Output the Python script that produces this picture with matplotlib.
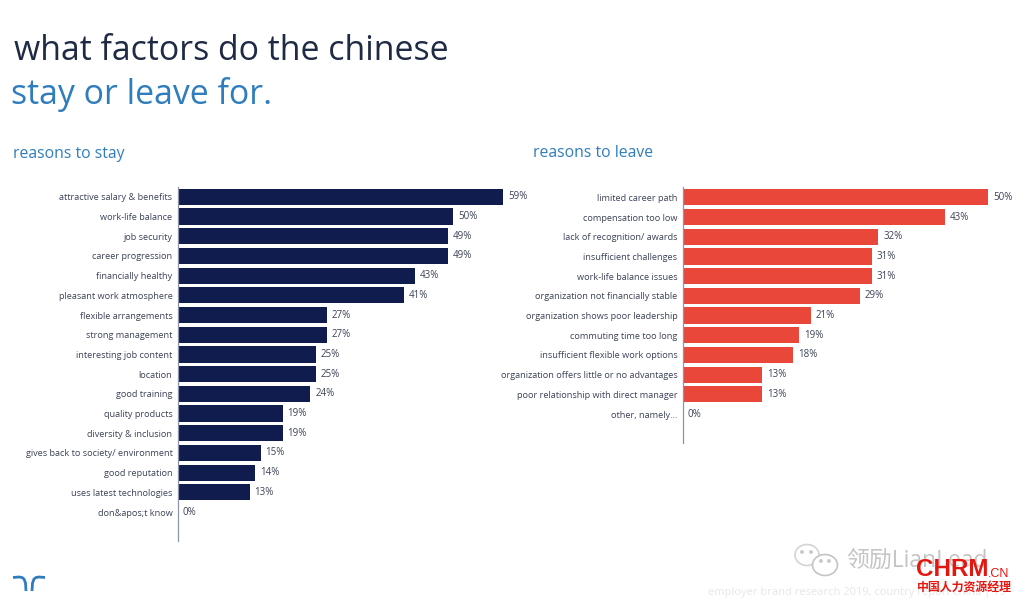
import matplotlib
matplotlib.use("Agg")
import matplotlib.pyplot as plt
from matplotlib.patches import Ellipse, Circle

plt.rcParams['font.family'] = ['Open Sans', 'Noto Sans CJK SC', 'DejaVu Sans']

stay_labels = ["attractive salary & benefits", "work-life balance", "job security",
               "career progression", "financially healthy", "pleasant work atmosphere",
               "flexible arrangements", "strong management", "interesting job content",
               "location", "good training", "quality products", "diversity & inclusion",
               "gives back to society/ environment", "good reputation",
               "uses latest technologies", "don&apos;t know"]
stay_values = [59, 50, 49, 49, 43, 41, 27, 27, 25, 25, 24, 19, 19, 15, 14, 13, 0]

leave_labels = ["limited career path", "compensation too low", "lack of recognition/ awards",
                "insufficient challenges", "work-life balance issues",
                "organization not financially stable", "organization shows poor leadership",
                "commuting time too long", "insufficient flexible work options",
                "organization offers little or no advantages",
                "poor relationship with direct manager", "other, namely..."]
leave_values = [50, 43, 32, 31, 31, 29, 21, 19, 18, 13, 13, 0]

W, H = 1024, 607
NAVY, RED, BLUE, DARK, GREY = "#101c4e", "#e8473a", "#2f7dbd", "#1f2a44", "#3c4358"

fig = plt.figure(figsize=(W / 100, H / 100), dpi=100, facecolor="white")


def panel(x0, x1, top, bottom, ymax, xmax, labels, values, color):
    ax = fig.add_axes([x0 / W, 1 - bottom / H, (x1 - x0) / W, (bottom - top) / H])
    ax.barh(range(len(values)), values, height=0.82, color=color)
    ax.set_xlim(0, xmax)
    ax.set_ylim(ymax, -0.5)
    ax.set_yticks(range(len(labels)), labels)
    ax.set_xticks([])
    ax.tick_params(axis='y', length=0, pad=4, labelsize=6.6, labelcolor=GREY)
    for s in ("top", "right", "bottom"):
        ax.spines[s].set_visible(False)
    ax.spines["left"].set_color("#8f95a8")
    ax.spines["left"].set_linewidth(0.9)
    ax.patch.set_alpha(0)
    for i, v in enumerate(values):
        ax.annotate(f"{v}%", (v, i), xytext=(3.5, 0), textcoords="offset points",
                    va="center", ha="left", fontsize=7, color=GREY)
    return ax


panel(178, 503, 187, 541, 17.47, 59, stay_labels, stay_values, NAVY)
panel(683, 988, 187.5, 443, 12.47, 50, leave_labels, leave_values, RED)

ov = fig.add_axes([0, 0, 1, 1], zorder=5)
ov.set_xlim(0, W)
ov.set_ylim(H, 0)
ov.axis("off")
ov.text(14, 51, "what factors do the chinese", fontsize=24.4, color=DARK, va="center")
ov.text(11, 94, "stay or leave for.", fontsize=24.4, color=BLUE, va="center")
ov.text(13, 154, "reasons to stay", fontsize=11.3, color=BLUE, va="center")
ov.text(533, 153, "reasons to leave", fontsize=11.3, color=BLUE, va="center")

# brand mark
for xs, ys in [([13, 19, 22, 24, 25.5, 26], [577.5, 577, 577.5, 579, 583, 591]),
               ([45, 39, 36, 34, 32.5, 32], [577.5, 577, 577.5, 579, 583, 591])]:
    ov.plot(xs, ys, color=BLUE, lw=2.0, solid_capstyle="butt")

# watermarks
ov.add_patch(Ellipse((807, 555), 24, 21, fill=False, ec="#d4d4d4", lw=1.2))
ov.add_patch(Ellipse((825, 565), 25, 21, ec="#c4c4c4", lw=1.2, fc="white"))
for cx, cy, r in [(802, 552, 1.2), (811, 552, 1.2), (821, 561, 1.2), (829, 561, 1.2)]:
    ov.add_patch(Circle((cx, cy), r, color="#c8c8c8"))
ov.text(846, 561, "领励LianLead", fontsize=16.5, color="#c4c4c4", va="center")
ov.text(708, 592, "employer brand research 2019, country report china | 19", fontsize=8,
        color="#e6e7ec", va="center")
ov.text(916, 570, "CHRM", fontsize=17.5, color="#e3170f", va="center", fontweight="bold",
        family=["Liberation Sans"])
ov.text(988, 574, ".CN", fontsize=9, color="#e3170f", va="center", family=["Liberation Sans"])
ov.text(917, 587, "中国人力资源经理", fontsize=8.6, color="#e3170f", va="center", fontweight="bold")

fig.savefig("out.png", dpi=100)
